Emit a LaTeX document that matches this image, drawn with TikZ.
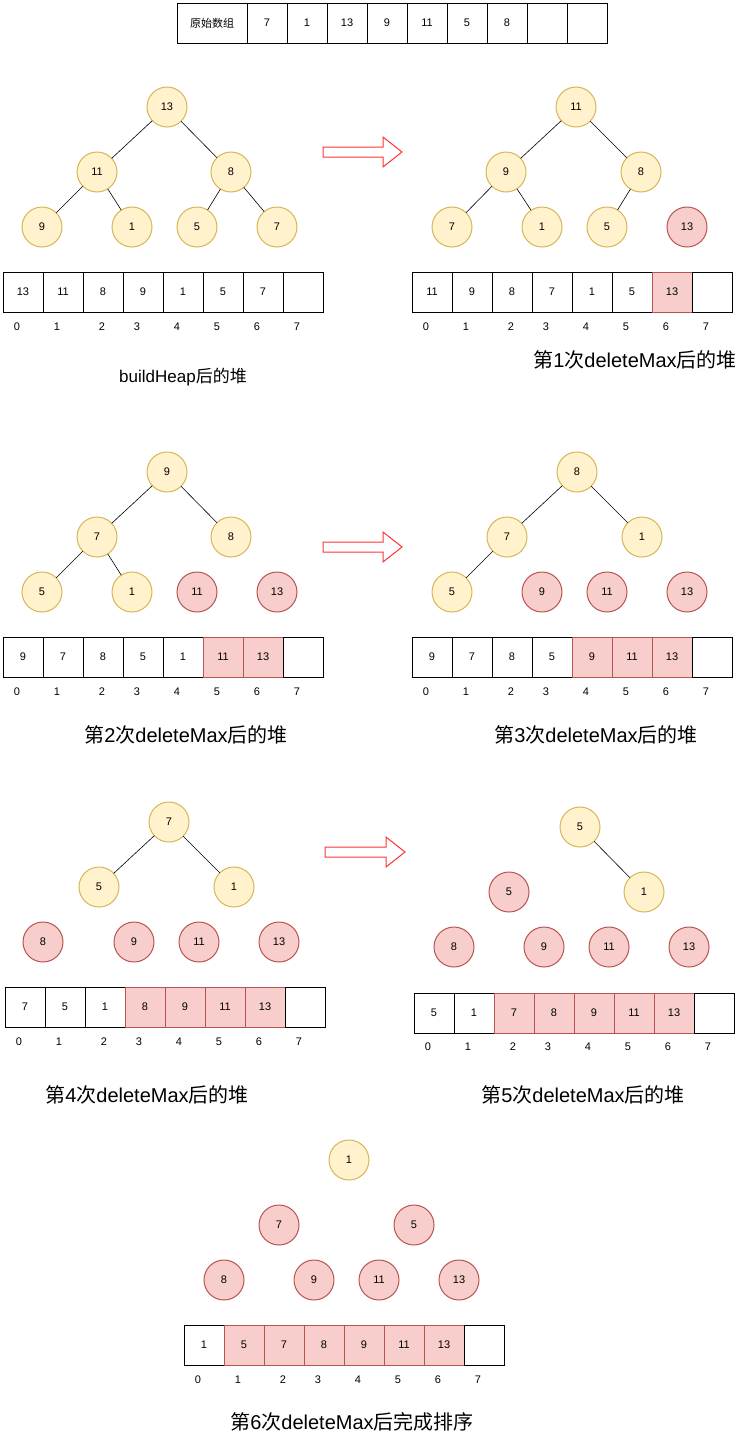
\documentclass[tikz,border=0pt]{standalone}
\usepackage{fontspec}
\setmainfont{Liberation Sans}
\newfontfamily\cjk{Noto Sans CJK SC}
\usetikzlibrary{positioning}
\definecolor{heapfill}{HTML}{FFF2CC}
\definecolor{heapline}{HTML}{D6B656}
\definecolor{donefill}{HTML}{F8CECC}
\definecolor{doneline}{HTML}{B85450}
\definecolor{arrowline}{HTML}{FF3333}

\begin{document}
\begin{tikzpicture}[x=1pt,y=-1pt,node distance=0pt,outer sep=0pt]
    \tikzstyle{heap} = [circle, minimum size=40pt, inner sep=0pt, line width=1pt, draw=heapline, fill=heapfill, font=\fontsize{11}{13}\selectfont]
    \tikzstyle{done} = [heap, draw=doneline, fill=donefill]
    \tikzstyle{cellw} = [rectangle, anchor=north west, minimum width=40pt, minimum height=40pt, inner sep=0pt, line width=1pt, draw=black, fill=white, font=\fontsize{11}{13}\selectfont]
    \tikzstyle{cellr} = [cellw, draw=doneline, fill=donefill]
    \tikzstyle{idx} = [inner sep=0pt, font=\fontsize{11}{13}\selectfont]
    \tikzstyle{caption} = [inner sep=0pt, font=\fontsize{20}{24}\selectfont]
    \tikzstyle{bigarrow} = [draw=arrowline, fill=white, line width=1pt]
    \tikzstyle{edge} = [draw=black, line width=0.6pt]
    \useasboundingbox (0,0) rectangle (754,1435);

    % original array
    \node (orig) [cellw, minimum width=70pt, font=\cjk\fontsize{11}{13}\selectfont] at (177,3) {原始数组};
    \foreach \v [count=\i from 0] in {7,1,13,9,11,5,8,{},{}}
        \node (o\i) [cellw] at (247+40*\i,3) {\v};

    % buildHeap
    \node (p1n0) [heap] at (167,107) {13};
    \node (p1n1) [heap] at (97,172) {11};
    \node (p1n2) [heap] at (231,172) {8};
    \node (p1n3) [heap] at (42,227) {9};
    \node (p1n4) [heap] at (132,227) {1};
    \node (p1n5) [heap] at (197,227) {5};
    \node (p1n6) [heap] at (277,227) {7};
    \draw[edge] (p1n0) -- (p1n1);
    \draw[edge] (p1n0) -- (p1n2);
    \draw[edge] (p1n1) -- (p1n3);
    \draw[edge] (p1n1) -- (p1n4);
    \draw[edge] (p1n2) -- (p1n5);
    \draw[edge] (p1n2) -- (p1n6);
    \foreach \v/\s [count=\i from 0] in {13/cellw,11/cellw,8/cellw,9/cellw,1/cellw,5/cellw,7/cellw,/cellw}
        \node (p1c\i) [\s] at (3+40*\i,272) {\v};
    \foreach \d [count=\i from 0] in {14,54,99,134,174,214,254,294}
        \node (p1i\i) [idx] at (3+\d,327) {\i};
    \node (p1t) [caption, font=\fontsize{17}{20}\selectfont] at (183,377) {buildHeap{\cjk 后的堆}};

    \draw[bigarrow] (323,147) -- (383,147) -- (383,137) -- (402,152) -- (383,167) -- (383,157) -- (323,157) -- cycle;

    % deleteMax 1
    \node (p2n0) [heap] at (576,107) {11};
    \node (p2n1) [heap] at (506,172) {9};
    \node (p2n2) [heap] at (641,172) {8};
    \node (p2n3) [heap] at (452,227) {7};
    \node (p2n4) [heap] at (542,227) {1};
    \node (p2n5) [heap] at (607,227) {5};
    \node (p2n6) [done] at (687,227) {13};
    \draw[edge] (p2n0) -- (p2n1);
    \draw[edge] (p2n0) -- (p2n2);
    \draw[edge] (p2n1) -- (p2n3);
    \draw[edge] (p2n1) -- (p2n4);
    \draw[edge] (p2n2) -- (p2n5);
    \foreach \v/\s [count=\i from 0] in {11/cellw,9/cellw,8/cellw,7/cellw,1/cellw,5/cellw,13/cellr,/cellw}
        \node (p2c\i) [\s] at (412+40*\i,272) {\v};
    \foreach \d [count=\i from 0] in {14,54,99,134,174,214,254,294}
        \node (p2i\i) [idx] at (412+\d,327) {\i};
    \node (p2t) [caption] at (635,360) {{\cjk 第}1{\cjk 次}deleteMax{\cjk 后的堆}};

    % deleteMax 2
    \node (p3n0) [heap] at (167,472) {9};
    \node (p3n1) [heap] at (97,537) {7};
    \node (p3n2) [heap] at (231,537) {8};
    \node (p3n3) [heap] at (42,592) {5};
    \node (p3n4) [heap] at (132,592) {1};
    \node (p3n5) [done] at (197,592) {11};
    \node (p3n6) [done] at (277,592) {13};
    \draw[edge] (p3n0) -- (p3n1);
    \draw[edge] (p3n0) -- (p3n2);
    \draw[edge] (p3n1) -- (p3n3);
    \draw[edge] (p3n1) -- (p3n4);
    \foreach \v/\s [count=\i from 0] in {9/cellw,7/cellw,8/cellw,5/cellw,1/cellw,11/cellr,13/cellr,/cellw}
        \node (p3c\i) [\s] at (3+40*\i,637) {\v};
    \foreach \d [count=\i from 0] in {14,54,99,134,174,214,254,294}
        \node (p3i\i) [idx] at (3+\d,692) {\i};
    \node (p3t) [caption] at (186,735) {{\cjk 第}2{\cjk 次}deleteMax{\cjk 后的堆}};

    \draw[bigarrow] (323,542) -- (383,542) -- (383,532) -- (402,547) -- (383,562) -- (383,552) -- (323,552) -- cycle;

    % deleteMax 3
    \node (p4n0) [heap] at (577,472) {8};
    \node (p4n1) [heap] at (507,537) {7};
    \node (p4n2) [heap] at (642,537) {1};
    \node (p4n3) [heap] at (452,592) {5};
    \node (p4n4) [done] at (542,592) {9};
    \node (p4n5) [done] at (607,592) {11};
    \node (p4n6) [done] at (687,592) {13};
    \draw[edge] (p4n0) -- (p4n1);
    \draw[edge] (p4n0) -- (p4n2);
    \draw[edge] (p4n1) -- (p4n3);
    \foreach \v/\s [count=\i from 0] in {9/cellw,7/cellw,8/cellw,5/cellw,9/cellr,11/cellr,13/cellr,/cellw}
        \node (p4c\i) [\s] at (412+40*\i,637) {\v};
    \foreach \d [count=\i from 0] in {14,54,99,134,174,214,254,294}
        \node (p4i\i) [idx] at (412+\d,692) {\i};
    \node (p4t) [caption] at (596,735) {{\cjk 第}3{\cjk 次}deleteMax{\cjk 后的堆}};

    % deleteMax 4
    \node (p5n0) [heap] at (169,822) {7};
    \node (p5n1) [heap] at (99,887) {5};
    \node (p5n2) [heap] at (234,887) {1};
    \node (p5n3) [done] at (43,942) {8};
    \node (p5n4) [done] at (134,942) {9};
    \node (p5n5) [done] at (199,942) {11};
    \node (p5n6) [done] at (279,942) {13};
    \draw[edge] (p5n0) -- (p5n1);
    \draw[edge] (p5n0) -- (p5n2);
    \foreach \v/\s [count=\i from 0] in {7/cellw,5/cellw,1/cellw,8/cellr,9/cellr,11/cellr,13/cellr,/cellw}
        \node (p5c\i) [\s] at (5+40*\i,987) {\v};
    \foreach \d [count=\i from 0] in {14,54,99,134,174,214,254,294}
        \node (p5i\i) [idx] at (5+\d,1042) {\i};
    \node (p5t) [caption] at (147,1095) {{\cjk 第}4{\cjk 次}deleteMax{\cjk 后的堆}};

    \draw[bigarrow] (325,847) -- (386,847) -- (386,837) -- (405,852) -- (386,867) -- (386,857) -- (325,857) -- cycle;

    % deleteMax 5
    \node (p6n0) [heap] at (580,827) {5};
    \node (p6n1) [done] at (509,892) {5};
    \node (p6n2) [heap] at (644,892) {1};
    \node (p6n3) [done] at (454,947) {8};
    \node (p6n4) [done] at (544,947) {9};
    \node (p6n5) [done] at (609,947) {11};
    \node (p6n6) [done] at (689,947) {13};
    \draw[edge] (p6n0) -- (p6n2);
    \foreach \v/\s [count=\i from 0] in {5/cellw,1/cellw,7/cellr,8/cellr,9/cellr,11/cellr,13/cellr,/cellw}
        \node (p6c\i) [\s] at (414+40*\i,993) {\v};
    \foreach \d [count=\i from 0] in {14,54,99,134,174,214,254,294}
        \node (p6i\i) [idx] at (414+\d,1047) {\i};
    \node (p6t) [caption] at (583,1095) {{\cjk 第}5{\cjk 次}deleteMax{\cjk 后的堆}};

    % deleteMax 6
    \node (p7n0) [heap] at (349,1160) {1};
    \node (p7n1) [done] at (279,1225) {7};
    \node (p7n2) [done] at (414,1225) {5};
    \node (p7n3) [done] at (224,1280) {8};
    \node (p7n4) [done] at (314,1280) {9};
    \node (p7n5) [done] at (379,1280) {11};
    \node (p7n6) [done] at (459,1280) {13};
    \foreach \v/\s [count=\i from 0] in {1/cellw,5/cellr,7/cellr,8/cellr,9/cellr,11/cellr,13/cellr,/cellw}
        \node (p7c\i) [\s] at (184+40*\i,1325) {\v};
    \foreach \d [count=\i from 0] in {14,54,99,134,174,214,254,294}
        \node (p7i\i) [idx] at (184+\d,1380) {\i};
    \node (p7t) [caption] at (352,1422) {{\cjk 第}6{\cjk 次}deleteMax{\cjk 后完成排序}};
\end{tikzpicture}
\end{document}
